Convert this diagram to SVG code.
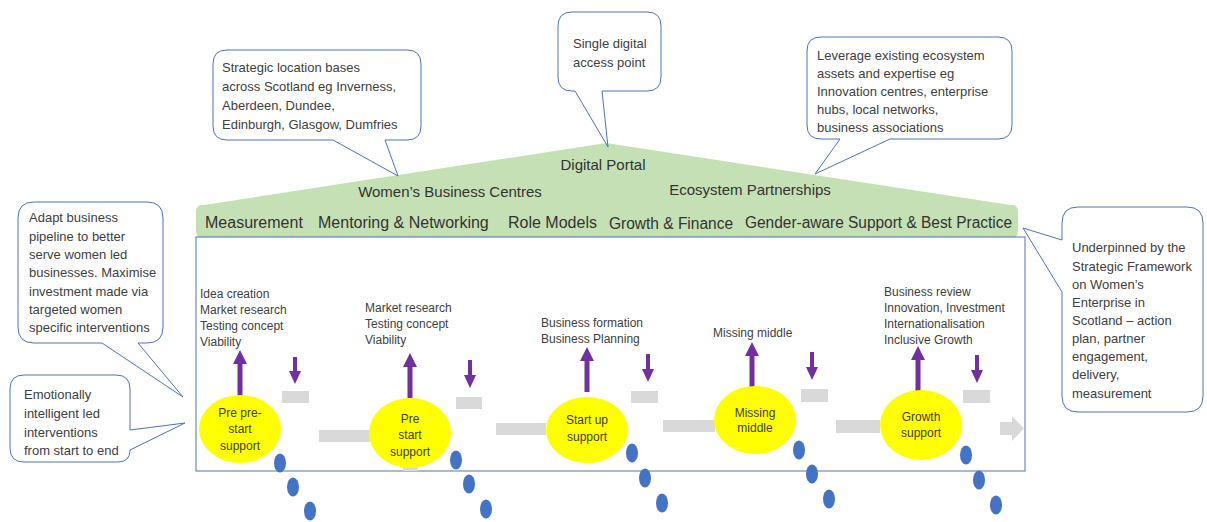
<svg xmlns="http://www.w3.org/2000/svg" width="1207" height="522" viewBox="0 0 1207 522">
<style>
.t{font-family:"Liberation Sans",Arial,sans-serif;fill:#404040}
.c13{font-size:13px}
.c12{font-size:12px}
.band{font-family:"Liberation Sans",Arial,sans-serif;fill:#333;font-size:16px}
.roof{font-family:"Liberation Sans",Arial,sans-serif;fill:#333;font-size:15px}
.call{fill:#fff;stroke:#4f74b3;stroke-width:1}
.green{fill:#c5e0b4}
.stage{fill:#ffff00}
.lab{font-family:"Liberation Sans",Arial,sans-serif;fill:#3d3d26;font-size:12px;text-anchor:middle}
.gray{fill:#d9d9d9}
.pur{fill:#7030a0}
.dot{fill:#4472c4}
</style>

<g id="roof">
<polygon class="green" points="198,206 606,143 1017,206"/>
<text class="roof" x="603" y="170" text-anchor="middle" font-size="15.5">Digital Portal</text>
<text class="roof" x="450" y="197" text-anchor="middle">Women’s Business Centres</text>
<text class="roof" x="750" y="195" text-anchor="middle">Ecosystem Partnerships</text>
</g>

<g id="band">
<rect class="green" x="196" y="205" width="822" height="33" rx="6"/>
<text class="band" x="205" y="228">Measurement</text>
<text class="band" x="318" y="228">Mentoring &amp; Networking</text>
<text class="band" x="508" y="228">Role Models</text>
<text class="band" x="609" y="229" textLength="124" lengthAdjust="spacingAndGlyphs">Growth &amp; Finance</text>
<text class="band" x="745" y="228" textLength="267" lengthAdjust="spacingAndGlyphs">Gender-aware Support &amp; Best Practice</text>
</g>

<g id="pipeline-frame">
<rect x="196" y="237" width="829" height="234" fill="#fff" stroke="#4f74b3" stroke-width="1"/>
</g>

<g id="callout-locations">
<path class="call" d="M227,50 H407 Q421,50 421,64 V126 Q421,140 407,140 H385 L398,176 L333,140 H227 Q213,140 213,126 V64 Q213,50 227,50 Z"/>
<text class="t c13" x="222"><tspan x="222" y="72">Strategic location bases</tspan><tspan x="222" y="91">across Scotland eg Inverness,</tspan><tspan x="222" y="110">Aberdeen, Dundee,</tspan><tspan x="222" y="129">Edinburgh, Glasgow, Dumfries</tspan></text>
</g>

<g id="callout-digital">
<path class="call" d="M572,12 H647 Q661,12 661,26 V77 Q661,91 647,91 H602 L608,147 L575,91 H572 Q558,91 558,77 V26 Q558,12 572,12 Z"/>
<text class="t c13"><tspan x="573" y="48">Single digital</tspan><tspan x="573" y="67">access point</tspan></text>
</g>

<g id="callout-ecosystem">
<path class="call" d="M821,37 H998 Q1012,37 1012,51 V125 Q1012,139 998,139 H890 L815,174 L840,139 H821 Q807,139 807,125 V51 Q807,37 821,37 Z"/>
<text class="t c13"><tspan x="817" y="60">Leverage existing ecosystem</tspan><tspan x="817" y="78">assets and expertise eg</tspan><tspan x="817" y="96">Innovation centres, enterprise</tspan><tspan x="817" y="114">hubs, local networks,</tspan><tspan x="817" y="132">business associations</tspan></text>
</g>

<g id="callout-adapt">
<path class="call" d="M34,202 H147 Q163,202 163,218 V327 Q163,343 147,343 H138 L183,397 L102,343 H34 Q18,343 18,327 V218 Q18,202 34,202 Z"/>
<text class="t c13"><tspan x="29" y="222">Adapt business</tspan><tspan x="29" y="241">pipeline to better</tspan><tspan x="29" y="259">serve women led</tspan><tspan x="29" y="277">businesses. Maximise</tspan><tspan x="29" y="296">investment made via</tspan><tspan x="29" y="314">targeted women</tspan><tspan x="29" y="332">specific interventions</tspan></text>
</g>

<g id="callout-emotional">
<path class="call" d="M24,375 H116 Q130,375 130,389 V430 L185,423 L130,450 Q130,462 118,462 H24 Q10,462 10,448 V389 Q10,375 24,375 Z"/>
<text class="t c13"><tspan x="24" y="399">Emotionally</tspan><tspan x="24" y="418">intelligent led</tspan><tspan x="24" y="437">interventions</tspan><tspan x="24" y="455">from start to end</tspan></text>
</g>

<g id="callout-framework">
<path class="call" d="M1078,207 H1187 Q1203,207 1203,223 V396 Q1203,412 1187,412 H1078 Q1062,412 1062,396 V292 L1023,228 L1062,240 V223 Q1062,207 1078,207 Z"/>
<text class="t c13"><tspan x="1072" y="252">Underpinned by the</tspan><tspan x="1072" y="271">Strategic Framework</tspan><tspan x="1072" y="289">on Women’s</tspan><tspan x="1072" y="307">Enterprise in</tspan><tspan x="1072" y="325">Scotland – action</tspan><tspan x="1072" y="343">plan, partner</tspan><tspan x="1072" y="361">engagement,</tspan><tspan x="1072" y="379">delivery,</tspan><tspan x="1072" y="398">measurement</tspan></text>
</g>

<g id="connectors">
<rect class="gray" x="282" y="391" width="27" height="12"/>
<rect class="gray" x="456" y="397" width="26" height="12"/>
<rect class="gray" x="631" y="391" width="27" height="12"/>
<rect class="gray" x="801" y="389" width="27" height="13"/>
<rect class="gray" x="963" y="390" width="27" height="13"/>
<rect class="gray" x="319" y="430" width="51" height="12"/>
<rect class="gray" x="403" y="466" width="15" height="5"/>
<rect class="gray" x="496" y="423" width="50" height="12"/>
<rect class="gray" x="663" y="420" width="52" height="12"/>
<rect class="gray" x="836" y="420" width="44" height="13"/>
<polygon class="gray" points="1000,422 1012,422 1012,416 1024,428.5 1012,441 1012,435 1000,435"/>
<polygon class="pur" points="240,350 247,364 242.5,364 242.5,396 237.5,396 237.5,364 233,364"/>
<polygon class="pur" points="410,353 417,367 412.5,367 412.5,398 407.5,398 407.5,367 403,367"/>
<polygon class="pur" points="587,347 594,361 589.5,361 589.5,392 584.5,392 584.5,361 580,361"/>
<polygon class="pur" points="752,342 759,356 754.5,356 754.5,387 749.5,387 749.5,356 745,356"/>
<polygon class="pur" points="918,346 925,360 920.5,360 920.5,391 915.5,391 915.5,360 911,360"/>
<polygon class="pur" points="293,357 297,357 297,371 301,371 295,384 289,371 293,371"/>
<polygon class="pur" points="468,360 472,360 472,375 476,375 470,388 464,375 468,375"/>
<polygon class="pur" points="646,354 650,354 650,369 654,369 648,382 642,369 646,369"/>
<polygon class="pur" points="810,352 814,352 814,367 818,367 812,380 806,367 810,367"/>
<polygon class="pur" points="975,355 979,355 979,370 983,370 977,383 971,370 975,370"/>
</g>

<g id="stage-pre-pre-start">
<ellipse class="stage" cx="240" cy="429" rx="41" ry="34"/>
<text class="lab"><tspan x="240" y="417">Pre pre-</tspan><tspan x="240" y="433">start</tspan><tspan x="240" y="450">support</tspan></text>
<text class="t c12"><tspan x="200" y="298">Idea creation</tspan><tspan x="200" y="314">Market research</tspan><tspan x="200" y="330">Testing concept</tspan><tspan x="200" y="346">Viability</tspan></text>
</g>

<g id="stage-pre-start">
<ellipse class="stage" cx="410" cy="433" rx="41" ry="35"/>
<text class="lab"><tspan x="410" y="423">Pre</tspan><tspan x="410" y="439">start</tspan><tspan x="410" y="456">support</tspan></text>
<text class="t c12"><tspan x="365" y="312">Market research</tspan><tspan x="365" y="328">Testing concept</tspan><tspan x="365" y="344">Viability</tspan></text>
</g>

<g id="stage-start-up">
<ellipse class="stage" cx="587" cy="430" rx="41" ry="33"/>
<text class="lab"><tspan x="587" y="424">Start up</tspan><tspan x="587" y="441">support</tspan></text>
<text class="t c12"><tspan x="541" y="327">Business formation</tspan><tspan x="541" y="343">Business Planning</tspan></text>
</g>

<g id="stage-missing-middle">
<ellipse class="stage" cx="755" cy="420" rx="41" ry="34"/>
<text class="lab"><tspan x="755" y="417">Missing</tspan><tspan x="755" y="432">middle</tspan></text>
<text class="t c12"><tspan x="713" y="337">Missing middle</tspan></text>
</g>

<g id="stage-growth">
<ellipse class="stage" cx="921" cy="425" rx="41" ry="35"/>
<text class="lab"><tspan x="921" y="421">Growth</tspan><tspan x="921" y="437">support</tspan></text>
<text class="t c12"><tspan x="884" y="296">Business review</tspan><tspan x="884" y="312">Innovation, Investment</tspan><tspan x="884" y="328">Internationalisation</tspan><tspan x="884" y="344">Inclusive Growth</tspan></text>
</g>

<g id="dots">
<ellipse class="dot" cx="280" cy="463" rx="6" ry="9.5"/>
<ellipse class="dot" cx="293" cy="487" rx="6" ry="9.5"/>
<ellipse class="dot" cx="310" cy="511" rx="6" ry="9.5"/>
<ellipse class="dot" cx="456" cy="460" rx="6" ry="9.5"/>
<ellipse class="dot" cx="469" cy="484" rx="6" ry="9.5"/>
<ellipse class="dot" cx="486" cy="509" rx="6" ry="9.5"/>
<ellipse class="dot" cx="632" cy="453" rx="6" ry="9.5"/>
<ellipse class="dot" cx="645" cy="478" rx="6" ry="9.5"/>
<ellipse class="dot" cx="662" cy="503" rx="6" ry="9.5"/>
<ellipse class="dot" cx="799" cy="450" rx="6" ry="9.5"/>
<ellipse class="dot" cx="812" cy="474" rx="6" ry="9.5"/>
<ellipse class="dot" cx="829" cy="499" rx="6" ry="9.5"/>
<ellipse class="dot" cx="966" cy="455" rx="6" ry="9.5"/>
<ellipse class="dot" cx="979" cy="480" rx="6" ry="9.5"/>
<ellipse class="dot" cx="996" cy="505" rx="6" ry="9.5"/>
</g>
</svg>
